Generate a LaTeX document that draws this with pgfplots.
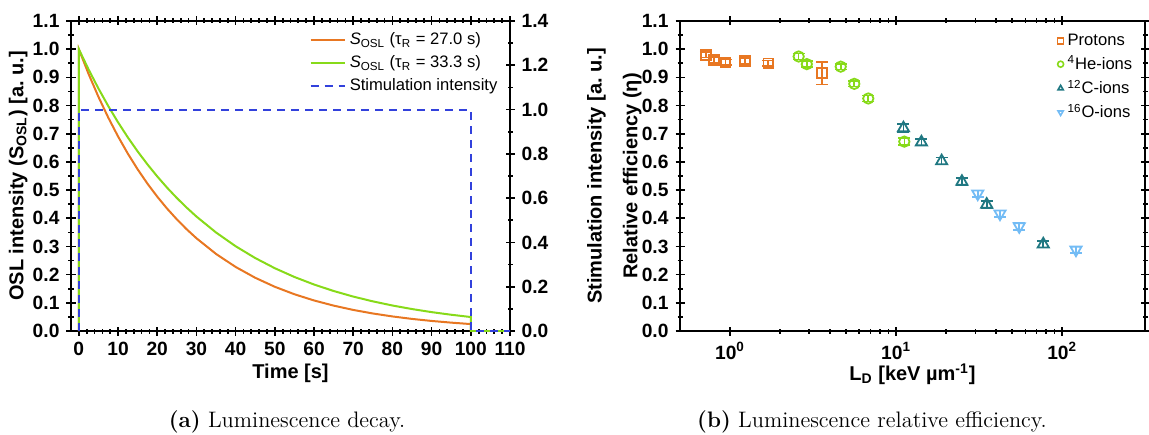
\documentclass[border=0pt]{standalone}
\usepackage{fontspec}
\usepackage{pgfplots}
\usepackage{pgfplotstable}
\pgfplotsset{compat=1.18}
\newfontfamily\arial{Liberation Sans}
\definecolor{cOr}{RGB}{232,119,34}
\definecolor{cGr}{RGB}{135,218,25}
\definecolor{cTe}{RGB}{32,120,130}
\definecolor{cLb}{RGB}{115,188,245}
\definecolor{cBl}{RGB}{50,65,220}

\pgfplotstableread{
x y e
0.715 0.980 0.010
0.80 0.962 0.010
0.94 0.953 0.010
1.23 0.958 0.010
1.70 0.950 0.010
3.57 0.915 0.040
}\protons
\pgfplotstableread{
x y e
2.59 0.974 0.010
2.90 0.947 0.010
4.64 0.938 0.010
5.60 0.877 0.010
6.80 0.825 0.010
11.2 0.672 0.012
}\heions
\pgfplotstableread{
x y e
11.07 0.720 0.015
14.2 0.670 0.012
18.8 0.603 0.012
24.9 0.530 0.012
35.1 0.449 0.012
76.9 0.308 0.012
}\cions
\pgfplotstableread{
x y e
31.0 0.487 0.012
42.2 0.416 0.012
55.1 0.371 0.012
121 0.288 0.012
}\oions

\pgfplotsset{
  myaxis/.style={
    scale only axis,
    tick align=center,
    major tick length=4.5pt,
    minor tick length=2.5pt,
    every tick/.style={black, line width=0.85pt},
    axis line style={line width=1.1pt},
    tick label style={font=\arial\bfseries\fontsize{9.6}{11}\selectfont},
    label style={font=\arial\bfseries\fontsize{10}{12}\selectfont},
    /pgf/number format/assume math mode=true,
  },
}

\begin{document}
\begin{tikzpicture}
\useasboundingbox (0,0) rectangle (574.5pt,217pt);

% ---------- left plot ----------
\begin{axis}[myaxis,
  at={(35.5pt,51.5pt)}, anchor=south west,
  width=219.5pt, height=155pt,
  xmin=-2, xmax=110, ymin=0, ymax=1.1,
  axis y line*=left,
  xtick={0,10,...,110}, minor x tick num=4,
  ytick={0,0.1,...,1.1}, minor y tick num=1,
  yticklabel style={/pgf/number format/.cd, fixed, fixed zerofill, precision=1},
  xlabel={Time [s]},
  ylabel={OSL intensity (S\textsubscript{OSL}) [a.\ u.]},
  xlabel style={at={(axis description cs:0.5,-0.135)}, anchor=center},
  ylabel style={at={(axis description cs:-0.12,0.5)}, anchor=center},
  legend style={at={(0.995,0.99)}, anchor=north east, draw=none, fill=none,
    font=\arial\fontsize{8.3}{10}\selectfont, row sep=0pt,
    legend cell align=left},
]
\addplot[cOr, line width=1pt] coordinates {
(0,0)(0,1)(2.5,0.9116)(5,0.8310)(7.5,0.7575)(10,0.6905)(12.5,0.6294)(15,0.5738)
(17.5,0.5230)(20,0.4768)(22.5,0.4346)(25,0.3962)(27.5,0.3611)(30,0.3292)(35,0.2735)
(40,0.2273)(45,0.1889)(50,0.1569)(55,0.1304)(60,0.1084)(65,0.0901)(70,0.0748)
(75,0.0622)(80,0.0517)(85,0.0429)(90,0.0357)(95,0.0297)(100,0.0246)(100,0)(110,0)};
\addlegendentry{{\itshape S}\textsubscript{OSL} (τ\textsubscript{R} = 27.0 s)}
\addplot[cGr, line width=1pt] coordinates {
(0,0)(0,1)(2.5,0.9277)(5,0.8606)(7.5,0.7983)(10,0.7406)(12.5,0.6870)(15,0.6373)
(17.5,0.5913)(20,0.5485)(22.5,0.5088)(25,0.4720)(27.5,0.4379)(30,0.4062)(35,0.3496)
(40,0.3008)(45,0.2589)(50,0.2228)(55,0.1917)(60,0.1650)(65,0.1420)(70,0.1222)
(75,0.1052)(80,0.0905)(85,0.0779)(90,0.0670)(95,0.0577)(100,0.0496)(100,0)(110,0)};
\addlegendentry{{\itshape S}\textsubscript{OSL} (τ\textsubscript{R} = 33.3 s)}
\addlegendimage{cBl, line width=1pt, dash pattern=on 4pt off 3pt}
\addlegendentry{Stimulation intensity}
\end{axis}

\begin{axis}[myaxis,
  at={(35.5pt,51.5pt)}, anchor=south west,
  width=219.5pt, height=155pt,
  xmin=-2, xmax=110, ymin=0, ymax=1.4,
  axis x line=none, axis y line*=right,
  ytick={0,0.2,...,1.4}, minor y tick num=1,
  yticklabel style={/pgf/number format/.cd, fixed, fixed zerofill, precision=1},
  ylabel={Stimulation intensity [a.\ u.]},
  ylabel style={at={(axis description cs:1.197,0.5)}, anchor=center, rotate=0},
]
\addplot[cBl, line width=1pt, dash pattern=on 4pt off 3pt] coordinates {
(0,0)(0,1)(100,1)(100,0)(110,0)};
\end{axis}

% ---------- right plot ----------
\begin{axis}[myaxis,
  at={(340pt,51.5pt)}, anchor=south west,
  width=232.5pt, height=155pt,
  xmode=log, xmin=0.5, xmax=315, ymin=0, ymax=1.1,
  xtick={1,10,100},
  xticklabels={10\textsuperscript{0},10\textsuperscript{1},10\textsuperscript{2}},
  ytick={0,0.1,...,1.1}, minor y tick num=1,
  yticklabel style={/pgf/number format/.cd, fixed, fixed zerofill, precision=1},
  xlabel={L\textsubscript{D} [keV µm\textsuperscript{-1}]},
  ylabel={Relative efficiency (η)},
  xlabel style={at={(axis description cs:0.5,-0.14)}, anchor=center},
  ylabel style={at={(axis description cs:-0.103,0.5)}, anchor=center},
  legend style={at={(0.995,0.985)}, anchor=north east, draw=none, fill=none,
    font=\arial\fontsize{8.3}{10}\selectfont, row sep=-0.3pt,
    legend cell align=left},
  legend image code/.code={\draw[mark size=1.5pt, line width=0.8pt] plot coordinates {(0.25cm,0cm)};},
  error bars/error bar style={line width=0.8pt},
  error bars/error mark options={rotate=90, mark size=3pt, line width=0.8pt},
]
\addplot[cOr, only marks, mark=square, mark size=2.4pt, line width=0.9pt,
  error bars/.cd, y dir=both, y explicit]
  table[x=x, y=y, y error=e] {\protons};
\addlegendentry{Protons}
\addplot[cGr, only marks, mark=o, mark size=2.6pt, line width=0.9pt,
  error bars/.cd, y dir=both, y explicit]
  table[x=x, y=y, y error=e] {\heions};
\addlegendentry{\textsuperscript{4}He-ions}
\addplot[cTe, only marks, mark=triangle, mark size=3.2pt, line width=0.9pt,
  error bars/.cd, y dir=both, y explicit]
  table[x=x, y=y, y error=e] {\cions};
\addlegendentry{\textsuperscript{12}C-ions}
\addplot[cLb, only marks, mark=triangle, mark options={rotate=180}, mark size=3.2pt, line width=0.9pt,
  error bars/.cd, y dir=both, y explicit]
  table[x=x, y=y, y error=e] {\oions};
\addlegendentry{\textsuperscript{16}O-ions}
\end{axis}

% ---------- captions ----------
\node[anchor=base, font=\fontsize{11.2}{13}\selectfont] at (143.5pt,3.5pt) {\textbf{(a)}\ Luminescence decay.};
\node[anchor=base, font=\fontsize{11.2}{13}\selectfont] at (436pt,3.5pt) {\textbf{(b)}\ Luminescence relative efficiency.};
\end{tikzpicture}
\end{document}
